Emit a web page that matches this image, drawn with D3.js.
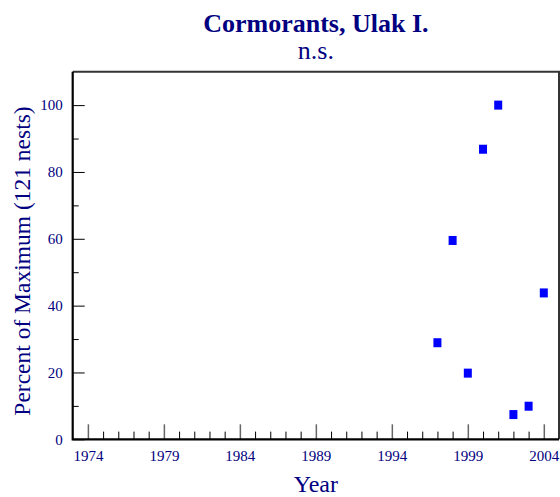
<!DOCTYPE html>
<html>
<head>
<meta charset="utf-8">
<script src="https://cdn.jsdelivr.net/npm/d3@7"></script>
<style>
	body { margin: 0; background: #fff; }
	svg text { font-family: "Liberation Serif", "Times New Roman", serif; fill: #000080; }
</style>
</head>
<body>
<svg id="graph"></svg>
<script>
// data
var years = [1997, 1998, 1999, 2000, 2001, 2002, 2003, 2004];
var percentOfMax = [28.9, 59.5, 19.8, 86.8, 100, 7.4, 9.9, 43.8];
var xMajorTicks = [1974, 1979, 1984, 1989, 1994, 1999, 2004];
var yMajorTicks = [0, 20, 40, 60, 80, 100];
var yMinorTicks = [10, 30, 50, 70, 90];

var W = 560, H = 497;
var margin = {top: 71.7, left: 72.7, right: 1, bottom: 57.7},
	width = W - margin.left - margin.right,
	height = H - margin.top - margin.bottom,
	graph = d3.select("#graph").attr("width", W).attr("height", H),
	g = graph.append("g").attr("transform", "translate(" + margin.left + "," + margin.top + ")");

var x = d3.scaleLinear().domain([1973, 2005]).range([0, width]),
	y = d3.scaleLinear().domain([0, 110]).range([height, 0]);

var xMinor = d3.range(1974, 2005).filter(function(d) { return xMajorTicks.indexOf(d) < 0; });

// minor ticks first, then majors on top
g.append("g")
	.attr("class", "axis xminor")
	.attr("transform", "translate(0," + height + ")")
	.call(d3.axisBottom(x).tickValues(xMinor).tickSize(-7.7).tickFormat(""));

g.append("g")
	.attr("class", "axis xaxis")
	.attr("transform", "translate(0," + height + ")")
	.call(d3.axisBottom(x).tickValues(xMajorTicks).tickSize(-15).tickPadding(11).tickFormat(d3.format("d")));

g.append("g")
	.attr("class", "axis yminor")
	.call(d3.axisLeft(y).tickValues(yMinorTicks).tickSize(-6).tickFormat(""));

g.append("g")
	.attr("class", "axis yaxis")
	.call(d3.axisLeft(y).tickValues(yMajorTicks).tickSize(-12).tickPadding(10));

g.selectAll(".axis .domain").remove();
g.selectAll(".xminor line, .yminor line, .yaxis line").attr("stroke", "#000").attr("stroke-width", 1);
g.selectAll(".xaxis line").attr("stroke", "#666").attr("stroke-width", 1.5);
g.selectAll(".axis text").attr("font-size", 15).attr("fill", "#000080")
	.attr("font-family", "Liberation Serif, serif");

// frame
g.append("path")
	.attr("d", "M0,0H" + width + "V" + height)
	.attr("fill", "none").attr("stroke", "#333").attr("stroke-width", 2);
g.append("path")
	.attr("d", "M0,0V" + height + "H" + width)
	.attr("fill", "none").attr("stroke", "#000").attr("stroke-width", 2.2);

// points
g.selectAll("rect.pt")
	.data(years)
	.enter().append("rect")
		.attr("class", "pt")
		.attr("x", function(d) { return x(d) - 4; })
		.attr("y", function(d, i) { return y(percentOfMax[i]) - 4.5; })
		.attr("width", 8)
		.attr("height", 9)
		.attr("fill", "#0000ff");

// titles
graph.append("text")
	.attr("x", margin.left + width / 2).attr("y", 32)
	.attr("text-anchor", "middle").attr("font-size", 26).attr("font-weight", "bold")
	.text("Cormorants, Ulak I.");
graph.append("text")
	.attr("x", margin.left + width / 2).attr("y", 59)
	.attr("text-anchor", "middle").attr("font-size", 26)
	.text("n.s.");
graph.append("text")
	.attr("x", margin.left + width / 2).attr("y", 491.5)
	.attr("text-anchor", "middle").attr("font-size", 24)
	.text("Year");
graph.append("text")
	.attr("transform", "translate(30,261) rotate(-90)")
	.attr("text-anchor", "middle").attr("font-size", 23.5)
	.text("Percent of Maximum (121 nests)");
</script>
</body>
</html>
